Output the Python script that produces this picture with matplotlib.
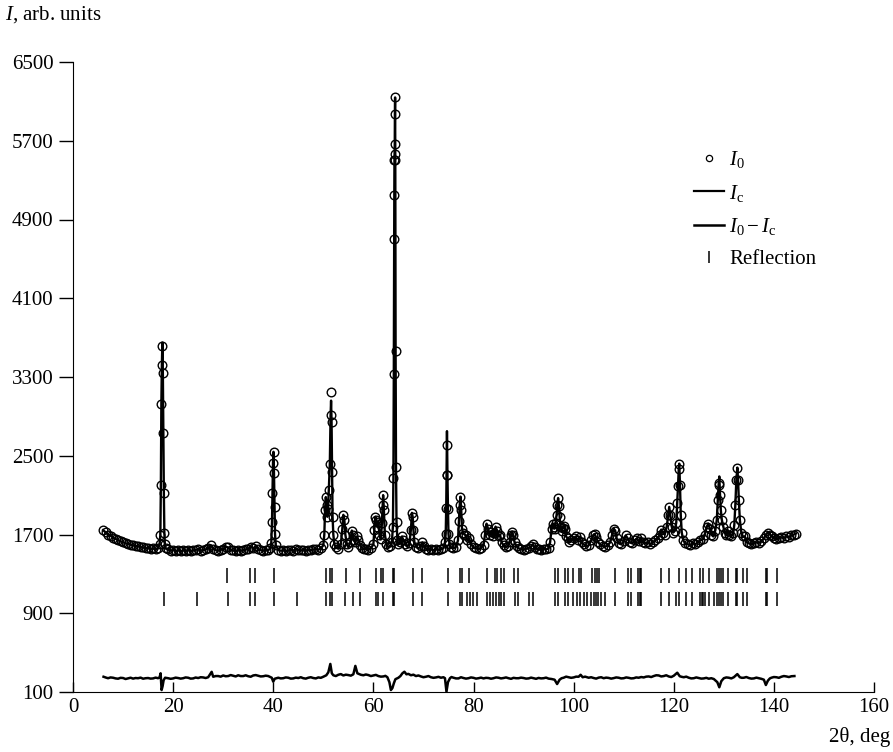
import matplotlib
matplotlib.use("Agg")
import matplotlib.pyplot as plt
from matplotlib.lines import Line2D
import numpy as np

plt.rcParams['font.family'] = ['Liberation Serif', 'DejaVu Serif']
plt.rcParams['mathtext.fontset'] = 'custom'
plt.rcParams['mathtext.rm'] = 'Liberation Serif'
plt.rcParams['mathtext.it'] = 'Liberation Serif:italic'

obs_low = [(6.0, 1745), (6.5, 1722), (7.0, 1700), (7.5, 1688), (8.0, 1668), (8.5, 1655),
           (9.0, 1642), (9.5, 1630), (10.0, 1622), (10.5, 1610), (11.0, 1605), (11.5, 1598),
           (12.0, 1590), (12.5, 1582), (13.0, 1580), (13.5, 1572), (14.0, 1568), (14.5, 1560),
           (15.0, 1562), (15.5, 1552), (16.0, 1558), (16.5, 1548), (17.0, 1560)]
obs_18 = [(17.3, 1600), (17.45, 1700), (17.55, 2200), (17.65, 3030), (17.75, 3420), (17.85, 3610),
          (17.95, 3340), (18.05, 2730), (18.15, 2120), (18.25, 1720), (18.35, 1600), (18.5, 1560)]
obs_20_40 = [(19.0, 1548), (19.5, 1535), (20.0, 1545), (20.5, 1530), (21.0, 1542), (21.5, 1528),
             (22.0, 1540), (22.5, 1532), (23.0, 1545), (23.5, 1530), (24.0, 1538), (24.5, 1545),
             (25.0, 1550), (25.5, 1535), (26.0, 1540), (26.5, 1548), (27.0, 1560), (27.5, 1592),
             (28.0, 1555), (28.5, 1540), (29.0, 1535), (29.5, 1545), (30.0, 1550), (30.5, 1575),
             (31.0, 1568), (31.5, 1545), (32.0, 1538), (32.5, 1530), (33.0, 1542), (33.5, 1535),
             (34.0, 1540), (34.5, 1548), (35.0, 1555), (35.5, 1578), (36.0, 1560), (36.5, 1580),
             (37.0, 1550), (37.5, 1540), (38.0, 1535), (38.5, 1545), (39.0, 1540), (39.4, 1560)]
obs_40 = [(39.6, 1610), (39.75, 1830), (39.85, 2120), (39.95, 2430), (40.05, 2540), (40.15, 2320),
          (40.25, 1980), (40.35, 1710), (40.5, 1590)]
obs_41_50 = [(41.0, 1545), (41.5, 1535), (42.0, 1540), (42.5, 1530), (43.0, 1538), (43.5, 1545),
             (44.0, 1535), (44.5, 1550), (45.0, 1545), (45.5, 1538), (46.0, 1542), (46.5, 1535),
             (47.0, 1545), (47.5, 1540), (48.0, 1548), (48.5, 1552), (49.0, 1545), (49.5, 1560),
             (50.0, 1590)]
obs_50_60 = [(50.2, 1700), (50.35, 1950), (50.5, 2080), (50.65, 2000), (50.8, 1880), (50.95, 1960),
             (51.1, 2150), (51.3, 2420), (51.45, 2910), (51.55, 3150), (51.65, 2840), (51.75, 2330),
             (51.85, 1880), (52.0, 1700), (52.2, 1600), (52.5, 1570), (53.0, 1555), (53.5, 1600),
             (53.8, 1760), (54.0, 1900), (54.2, 1850), (54.4, 1700), (54.7, 1600), (55.0, 1570),
             (55.4, 1620), (55.7, 1740), (55.9, 1700), (56.1, 1640), (56.4, 1620), (56.7, 1680),
             (57.0, 1640), (57.4, 1590), (57.8, 1560), (58.2, 1550), (58.6, 1555), (59.0, 1545),
             (59.5, 1560)]
obs_60_64 = [(60.0, 1600), (60.2, 1750), (60.4, 1880), (60.6, 1850), (60.8, 1780), (61.0, 1830),
             (61.2, 1700), (61.5, 1650), (61.7, 1820), (61.85, 2000), (61.95, 2100), (62.1, 1950),
             (62.3, 1700), (62.6, 1600), (63.0, 1570), (63.4, 1580), (63.7, 1620)]
obs_64 = [(63.9, 1780), (64.0, 2270), (64.08, 3330), (64.14, 4700), (64.18, 5150), (64.21, 5500),
          (64.24, 5570), (64.27, 5670), (64.3, 5970), (64.34, 6140), (64.38, 5500), (64.44, 3560),
          (64.52, 2390), (64.62, 1830), (64.8, 1640)]
obs_65_75 = [(65.0, 1600), (65.4, 1620), (65.7, 1680), (66.0, 1640), (66.4, 1600), (66.8, 1580),
             (67.2, 1610), (67.5, 1750), (67.7, 1920), (67.85, 1880), (68.0, 1750), (68.2, 1620),
             (68.6, 1570), (69.0, 1560), (69.5, 1580), (69.8, 1620), (70.1, 1580), (70.5, 1555),
             (71.0, 1545), (71.5, 1550), (72.0, 1540), (72.5, 1552), (73.0, 1545), (73.5, 1550),
             (74.0, 1560), (74.3, 1620), (74.45, 1710), (74.55, 1970), (74.62, 2300), (74.7, 2610),
             (74.8, 2300), (74.9, 1960), (75.0, 1710), (75.2, 1600)]
obs_75_95 = [(75.5, 1570), (76.0, 1560), (76.5, 1575), (76.9, 1640), (77.1, 1840), (77.25, 2000),
             (77.4, 2085), (77.55, 1950), (77.7, 1760), (77.9, 1720), (78.2, 1700), (78.5, 1690),
             (78.8, 1640), (79.1, 1660), (79.5, 1600), (80.0, 1570), (80.5, 1560), (81.0, 1550),
             (81.5, 1565), (82.0, 1590), (82.3, 1700), (82.6, 1810), (82.9, 1760), (83.2, 1700),
             (83.5, 1730), (83.8, 1680), (84.1, 1720), (84.4, 1780), (84.7, 1740), (85.0, 1680),
             (85.3, 1700), (85.6, 1620), (86.0, 1590), (86.4, 1570), (86.8, 1580), (87.2, 1620),
             (87.5, 1700), (87.7, 1730), (87.9, 1700), (88.2, 1620), (88.6, 1580), (89.0, 1560),
             (89.5, 1550), (90.0, 1545), (90.5, 1555), (91.0, 1560), (91.5, 1580), (91.8, 1600),
             (92.2, 1570), (92.6, 1555), (93.0, 1550), (93.5, 1545), (94.0, 1555), (94.5, 1548),
             (95.0, 1560)]
obs_95_117 = [(95.3, 1620), (95.6, 1760), (95.8, 1810), (96.0, 1780), (96.2, 1760), (96.4, 1820),
              (96.6, 1900), (96.75, 2000), (96.9, 2070), (97.05, 1990), (97.2, 1880), (97.4, 1780),
              (97.6, 1740), (97.8, 1770), (98.0, 1790), (98.2, 1760), (98.5, 1680), (98.8, 1660),
              (99.1, 1620), (99.5, 1640), (100.0, 1660), (100.4, 1680), (100.8, 1640), (101.2, 1670),
              (101.6, 1620), (102.0, 1600), (102.5, 1580), (103.0, 1590), (103.5, 1640), (103.9, 1690),
              (104.2, 1705), (104.5, 1670), (104.9, 1620), (105.3, 1600), (105.8, 1585), (106.3, 1575),
              (106.8, 1590), (107.3, 1620), (107.7, 1700), (108.0, 1760), (108.3, 1740), (108.6, 1660),
              (109.0, 1610), (109.5, 1600), (110.0, 1630), (110.4, 1690), (110.8, 1660), (111.2, 1620),
              (111.7, 1610), (112.2, 1640), (112.6, 1660), (113.0, 1630), (113.4, 1660), (113.8, 1620),
              (114.3, 1610), (114.8, 1620), (115.3, 1600), (115.8, 1620), (116.3, 1640), (116.8, 1660)]
obs_117_135 = [(117.2, 1700), (117.5, 1750), (117.8, 1720), (118.2, 1700), (118.6, 1780), (118.9, 1900),
               (119.1, 1980), (119.3, 1900), (119.6, 1780), (119.9, 1720), (120.2, 1740), (120.5, 1820),
               (120.7, 2020), (120.85, 2190), (121.0, 2370), (121.1, 2420), (121.25, 2200), (121.4, 1900),
               (121.6, 1720), (121.9, 1640), (122.3, 1610), (122.8, 1600), (123.3, 1590), (123.8, 1610),
               (124.3, 1600), (124.8, 1620), (125.3, 1640), (125.8, 1650), (126.2, 1700), (126.6, 1780),
               (126.9, 1810), (127.2, 1760), (127.5, 1700), (127.9, 1680), (128.3, 1740), (128.6, 1850),
               (128.8, 2050), (128.95, 2200), (129.1, 2220), (129.25, 2100), (129.4, 1950), (129.6, 1850),
               (129.9, 1780), (130.2, 1720), (130.5, 1700), (130.8, 1740), (131.1, 1700), (131.5, 1680),
               (131.9, 1720), (132.1, 1800), (132.3, 2000), (132.5, 2250), (132.7, 2380), (132.85, 2250),
               (133.0, 2050), (133.2, 1850), (133.5, 1720), (133.8, 1680), (134.2, 1680), (134.6, 1620),
               (135.0, 1610)]
obs_high = [(135.5, 1600), (136.0, 1610), (136.5, 1620), (137.0, 1615), (137.5, 1630), (138.0, 1660),
            (138.4, 1700), (138.8, 1720), (139.2, 1700), (139.6, 1680), (140.0, 1660), (140.5, 1650),
            (141.0, 1660), (141.5, 1670), (142.0, 1665), (142.5, 1680), (143.0, 1675), (143.5, 1690),
            (144.0, 1700), (144.4, 1710)]

# calculated profile differs visibly from observed only at a few peak tops
calc_tops = {17.85: 3650, 51.55: 3060, 74.7: 2750, 129.1: 2290}

# difference curve I0 - Ic (plotted with offset as in the figure)
diff_a = [(6.1, 255), (6.6, 246), (7, 240), (7.5, 248), (8, 245), (8.5, 238), (9, 235), (9.5, 244),
          (10, 242), (10.5, 232), (11, 238), (11.5, 245), (12, 236), (12.5, 242), (13, 240),
          (13.5, 246), (14, 235), (14.5, 240), (15, 242), (15.5, 236), (16, 238), (16.5, 246),
          (17, 240), (17.3, 250), (17.5, 290), (17.7, 120), (17.9, 160), (18.1, 220), (18.4, 245),
          (19, 240), (19.5, 234), (20, 238), (20.5, 246), (21, 242), (21.5, 236), (22, 240),
          (22.5, 248), (23, 245), (23.5, 236), (24, 238), (24.5, 247), (25, 242), (25.5, 250),
          (26, 248), (26.5, 242), (27, 250), (27.7, 305), (28, 255), (28.5, 262), (29, 262),
          (29.5, 256), (30, 268), (30.5, 260), (31, 262), (31.5, 272), (32, 265), (32.5, 258),
          (33, 270), (33.5, 262), (34, 262), (34.5, 270), (35, 260), (35.5, 255), (36, 268),
          (36.5, 272), (37, 265), (37.5, 258), (38, 260), (38.5, 266), (39, 262), (39.7, 245),
          (40.0, 205), (40.3, 235), (41, 245), (41.5, 238), (42, 240), (42.5, 248), (43, 245),
          (43.5, 236), (44, 238), (44.5, 246), (45, 242), (45.5, 250), (46, 240), (46.5, 236),
          (47, 245), (47.5, 250), (48, 242), (48.5, 238), (49, 248), (49.5, 244)]
diff_b = [(50, 255), (50.6, 270), (51.0, 300), (51.4, 385), (51.7, 290), (52, 270), (52.5, 262),
          (53, 275), (53.5, 282), (54, 268), (54.5, 276), (55, 272), (55.5, 266), (56, 280),
          (56.4, 365), (56.8, 290), (57.2, 282), (57.5, 275), (58, 270), (58.5, 278), (59, 272),
          (59.5, 262), (60, 268), (60.5, 274), (61, 262), (61.5, 256), (62, 258), (62.4, 264),
          (62.8, 250), (63.2, 200), (63.5, 120), (63.8, 140), (64.1, 190), (64.4, 230), (65, 245),
          (65.4, 262), (65.8, 290), (66.2, 306), (66.6, 280), (67, 284), (67.5, 270), (68, 276),
          (68.5, 262), (69, 268), (69.5, 258), (70, 250), (70.5, 255), (71, 262), (71.5, 250),
          (72, 244), (72.5, 248), (73, 254), (73.5, 245), (74, 250), (74.3, 240), (74.6, 103),
          (74.9, 200), (75.3, 240), (75.6, 252), (76, 245), (76.5, 238), (77, 238), (77.5, 250),
          (78, 242), (78.5, 236), (79, 240), (79.5, 248), (80, 244), (80.5, 236), (81, 240),
          (81.5, 246), (82, 238), (82.5, 244), (83, 242), (83.5, 235), (84, 240), (84.5, 248),
          (85, 245), (85.5, 238), (86, 242), (86.5, 248), (87, 240), (87.5, 234), (88, 244),
          (88.5, 240), (89, 240), (89.5, 246), (90, 242), (90.5, 236), (91, 238), (91.5, 246),
          (92, 240), (92.5, 234), (93, 243), (93.5, 238), (94, 240), (94.5, 246)]
diff_c = [(95, 236), (95.6, 232), (96.2, 225), (96.7, 181), (97.2, 225), (97.6, 240), (98, 245),
          (98.5, 256), (99, 250), (99.5, 244), (100, 248), (100.5, 256), (101, 255), (101.4, 275),
          (101.8, 250), (102.3, 256), (103, 245), (103.5, 250), (104, 242), (104.5, 236), (105, 246),
          (105.5, 250), (106, 240), (106.5, 246), (107, 243), (107.5, 236), (108, 241), (108.5, 248),
          (109, 245), (109.5, 238), (110, 240), (110.5, 248), (111, 244), (111.5, 238), (112, 240),
          (112.5, 248), (113, 245), (113.5, 252), (114, 248), (114.5, 256), (115, 258), (115.5, 252),
          (116, 262), (116.5, 270), (117, 268), (117.5, 258), (118, 262), (118.5, 270), (119, 258),
          (119.5, 252), (120, 265), (120.7, 296), (121.2, 260), (121.6, 254), (122, 250),
          (122.5, 256), (123, 245), (123.5, 238), (124, 240), (124.5, 248), (125, 242), (125.5, 236),
          (126, 238), (126.5, 244), (127, 235), (127.5, 240), (128, 232), (128.7, 200), (129.1, 148),
          (129.5, 210), (130, 240), (130.5, 248), (131, 245), (131.5, 238), (132, 250), (132.7, 282),
          (133.2, 250), (133.6, 244), (134, 245), (134.5, 252), (135, 242), (135.5, 236), (136, 238),
          (136.5, 246), (137, 240), (137.5, 234), (138, 225), (138.4, 171), (138.8, 215), (139.2, 238),
          (139.5, 245), (140, 252), (140.5, 250), (141, 244), (141.5, 255), (142, 262), (142.5, 258),
          (143, 252), (143.5, 260), (144.1, 262)]

# reflection positions (two phases), 2theta
refl_upper = [30.7, 35.3, 36.4, 40.2, 50.6, 51.3, 51.7, 54.6, 57.3, 60.6, 61.5, 61.9, 64.0, 64.2,
              67.9, 69.7, 74.9, 77.4, 77.7, 79.1, 82.7, 84.2, 84.7, 85.4, 86.1, 88.1, 88.9, 96.2,
              96.9, 98.2, 98.9, 99.9, 101.1, 101.5, 103.7, 104.2, 104.6, 105.1, 108.2, 110.9,
              111.4, 112.8, 113.2, 113.5, 117.4, 119.1, 121.1, 122.4, 123.6, 125.3, 125.9, 127.1,
              128.7, 129.1, 129.4, 129.9, 130.9, 132.4, 132.7, 133.9, 134.7, 138.4, 138.7, 140.6]
refl_lower = [18.1, 24.7, 30.9, 35.4, 36.4, 40.2, 44.7, 50.6, 51.3, 51.7, 54.3, 55.9, 57.4, 60.6,
              60.9, 61.9, 64.0, 64.2, 67.9, 69.7, 74.9, 77.4, 77.7, 78.7, 79.4, 79.9, 80.6, 82.7,
              83.3, 83.9, 84.4, 85.1, 85.5, 86.1, 88.2, 88.9, 91.1, 91.9, 96.2, 96.9, 98.2, 98.9,
              99.9, 100.6, 101.3, 102.1, 102.7, 103.5, 104.1, 104.4, 104.9, 105.4, 106.2, 108.2,
              110.9, 111.4, 112.8, 113.2, 113.5, 117.4, 119.1, 120.4, 121.1, 122.4, 123.6, 125.3,
              125.6, 125.9, 126.3, 127.1, 128.1, 128.7, 129.1, 129.4, 129.9, 130.9, 132.4, 132.7,
              133.9, 134.7, 138.4, 138.7, 140.6]

obs = (obs_low + obs_18 + obs_20_40 + obs_40 + obs_41_50 + obs_50_60 + obs_60_64 + obs_64
       + obs_65_75 + obs_75_95 + obs_95_117 + obs_117_135 + obs_high)
tt = np.array([p[0] for p in obs])
i_obs = np.array([p[1] for p in obs], dtype=float)
i_calc = i_obs.copy()
for t, v in calc_tops.items():
    i_calc[np.argmin(np.abs(tt - t))] = v

diff = diff_a + diff_b + diff_c
tt_d = [p[0] for p in diff]
i_d = [p[1] for p in diff]

fig = plt.figure(figsize=(8.93, 7.52), dpi=100)
ax = fig.add_axes([73/893, 60/752, 801/893, 630/752])

ax.plot(tt, i_obs, ls='none', marker='o', ms=6.2, mfc='none', mec='k', mew=1.0, zorder=2)
ax.plot(tt, i_calc, color='k', lw=1.7, zorder=3)
ax.plot(tt_d, i_d, color='k', lw=1.8, zorder=3)
ax.vlines(refl_upper, 1210, 1360, color='k', lw=1.1)
ax.vlines(refl_lower, 975, 1115, color='k', lw=1.1)

ax.set_xlim(0, 160)
ax.set_ylim(100, 6500)
ax.set_xticks(np.arange(0, 161, 20))
ax.set_yticks(np.arange(100, 6501, 800))
ax.spines['top'].set_visible(False)
ax.spines['right'].set_visible(False)
ax.tick_params(axis='x', direction='in', length=7, width=1, labelsize=15, pad=4)
ax.tick_params(axis='y', direction='out', length=10, width=1, labelsize=15, pad=4)

fig.text(5/893, 1 - 15/752, r'$I$, arb. units', fontsize=15, ha='left', va='center')
fig.text(890/893, 1 - 737/752, '2θ, deg', fontsize=15, ha='right', va='center')

handles = [Line2D([], [], ls='none', marker='o', ms=4.5, mfc='none', mec='k', mew=0.9),
           Line2D([], [], color='k', lw=1.6),
           Line2D([], [], color='k', lw=1.8),
           Line2D([], [], ls='none', marker='|', ms=9, mec='k', mew=1.1)]
labels = [r'$I_0$', r'$I_{\rm c}$', r'$I_0 - I_{\rm c}$', 'Reflection']
fig.legend(handles, labels, loc='upper left', bbox_to_anchor=(694/893, 1 - 149/752),
           frameon=False, fontsize=15, handlelength=1.45, handletextpad=0.25,
           labelspacing=0.6, borderpad=0, borderaxespad=0)

fig.savefig('out.png', dpi=100)
